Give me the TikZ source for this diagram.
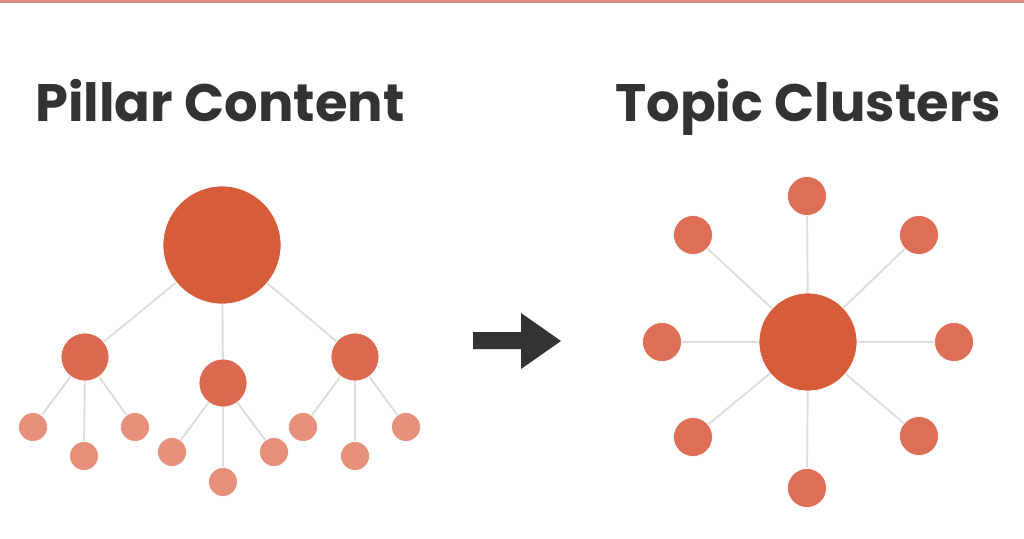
\documentclass[tikz,border=0pt]{standalone}
\usepackage{fontspec}
\newfontfamily\titlefont{Poppins}
\usetikzlibrary{positioning,backgrounds}
\definecolor{hubcolor}{RGB}{214,92,58}
\definecolor{midcolor}{RGB}{220,106,80}
\definecolor{leafcolor}{RGB}{231,145,124}
\definecolor{satcolor}{RGB}{222,110,86}
\definecolor{linkcolor}{RGB}{221,221,221}
\definecolor{inkcolor}{RGB}{51,51,51}
\definecolor{barcolor}{RGB}{219,140,128}
\tikzset{
  dot/.style={circle, inner sep=0pt, draw=white, line width=0.4pt},
  pillar/.style={dot, fill=hubcolor, minimum size=2.36cm},
  midnode/.style={dot, fill=midcolor, minimum size=0.96cm},
  leaf/.style={dot, fill=leafcolor, minimum size=0.58cm},
  hub/.style={dot, fill=hubcolor, minimum size=1.96cm},
  sat/.style={dot, fill=satcolor, minimum size=0.78cm},
  link/.style={linkcolor, line width=1.1pt},
  title/.style={inkcolor, anchor=base west, inner sep=0pt, font=\titlefont\bfseries\fontsize{30}{32}\selectfont},
}
\begin{document}
\begin{tikzpicture}[x=0.02cm, y=-0.02cm]
    \useasboundingbox (0,0) rectangle (1024,538);
    \fill[barcolor] (0,0) rectangle (1024,3);

    \node[title] (lefttitle) at (35,121) {Pillar Content};
    \node[title] (righttitle) at (615,121) {Topic Clusters};

    % pillar tree
    \node[pillar] (top) at (222,245) {};
    \node[midnode] (ma) at (85,357) {};
    \node[midnode] (mb) at (223,383) {};
    \node[midnode] (mc) at (355,357) {};
    \node[leaf] (a1) at (33,427) {};
    \node[leaf] (a2) at (84,456) {};
    \node[leaf] (a3) at (135,427) {};
    \node[leaf] (b1) at (172,452) {};
    \node[leaf] (b2) at (223,482) {};
    \node[leaf] (b3) at (274,452) {};
    \node[leaf] (c1) at (303,427) {};
    \node[leaf] (c2) at (355,456) {};
    \node[leaf] (c3) at (406,427) {};

    % arrow
    \fill[inkcolor] (473,332) -- (521,332) -- (521,313) -- (561,341) -- (521,369)
      -- (521,349) -- (473,349) -- cycle;

    % topic cluster
    \node[hub] (center) at (808,342) {};
    \node[sat] (s1) at (807,196) {};
    \node[sat] (s2) at (919,235) {};
    \node[sat] (s3) at (954,342) {};
    \node[sat] (s4) at (919,436) {};
    \node[sat] (s5) at (807,488) {};
    \node[sat] (s6) at (693,437) {};
    \node[sat] (s7) at (662,342) {};
    \node[sat] (s8) at (693,235) {};

    \begin{scope}[on background layer]
      \foreach \m in {ma,mb,mc}
        \draw[link] (top.center) -- (\m.center);
      \foreach \m/\l in {ma/a1,ma/a2,ma/a3,mb/b1,mb/b2,mb/b3,mc/c1,mc/c2,mc/c3}
        \draw[link] (\m.center) -- (\l.center);
      \foreach \s in {1,...,8}
        \draw[link] (center.center) -- (s\s.center);
    \end{scope}
\end{tikzpicture}
\end{document}
